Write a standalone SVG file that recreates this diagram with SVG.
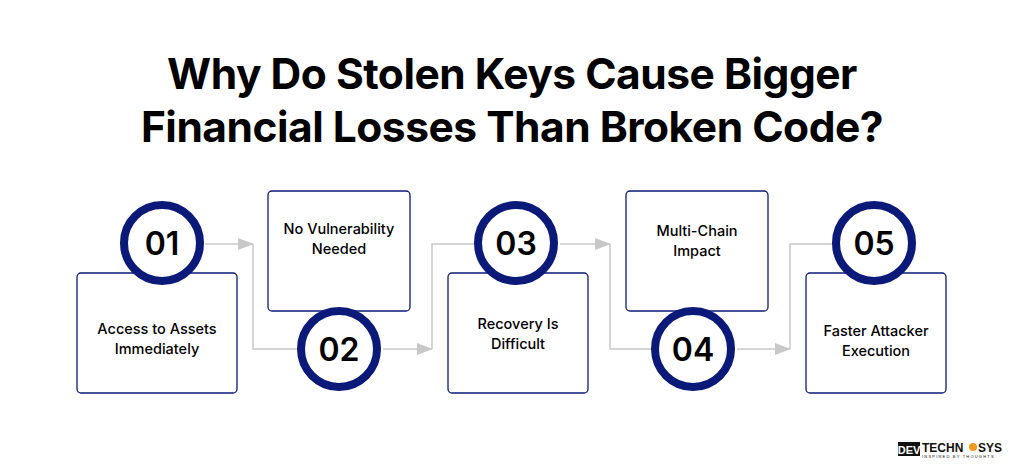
<svg xmlns="http://www.w3.org/2000/svg" width="1024" height="475" viewBox="0 0 1024 475">
<style>
.t{font-family:Inter,"Liberation Sans",sans-serif;font-weight:700;font-size:42.5px;fill:#000;text-anchor:middle;letter-spacing:-0.5px}
.box{fill:#fff;stroke:#0b1a78;stroke-width:1.3}
.c{fill:#fff;stroke:#0b1a78;stroke-width:8}
.n{font-family:Inter,"Liberation Sans",sans-serif;font-weight:600;font-size:32px;fill:#000;text-anchor:middle}
.l{font-family:Inter,"Liberation Sans",sans-serif;font-weight:500;font-size:14.5px;fill:#000;text-anchor:middle}
.cn{fill:none;stroke:#c8c8c8;stroke-width:1.5}
</style>
<defs><marker id="b" markerWidth="16" markerHeight="12" refX="15" refY="6" orient="auto" markerUnits="userSpaceOnUse"><path d="M0,0 L16,6 L0,12 Z" fill="#c8c8c8"/></marker></defs>
<rect width="1024" height="475" fill="#fff"/>
<text class="t" x="512" y="89">Why Do Stolen Keys Cause Bigger</text>
<text class="t" x="512" y="142">Financial Losses Than Broken Code?</text>
<g id="connectors">
<path class="cn" d="M205,244 H253" marker-end="url(#b)"/>
<path class="cn" d="M253,244 V349 H297"/>
<path class="cn" d="M383,349 H432" marker-end="url(#b)"/>
<path class="cn" d="M432,349 V244 H474"/>
<path class="cn" d="M560,244 H610" marker-end="url(#b)"/>
<path class="cn" d="M610,244 V349 H651"/>
<path class="cn" d="M737,349 H790" marker-end="url(#b)"/>
<path class="cn" d="M790,349 V244 H832"/>
</g>
<g id="n1"><rect class="box" x="77" y="273" width="160" height="120" rx="4"/><circle class="c" cx="162" cy="243" r="38"/><text class="n" x="162" y="255">01</text><text class="l" x="157" y="334">Access to Assets</text><text class="l" x="157" y="354">Immediately</text></g>
<g id="n2"><rect class="box" x="268" y="191" width="142" height="120" rx="4"/><circle class="c" cx="339" cy="349" r="38"/><text class="n" x="339" y="361">02</text><text class="l" x="339" y="234">No Vulnerability</text><text class="l" x="339" y="254">Needed</text></g>
<g id="n3"><rect class="box" x="448" y="273" width="140" height="120" rx="4"/><circle class="c" cx="516" cy="243" r="38"/><text class="n" x="516" y="255">03</text><text class="l" x="518" y="329">Recovery Is</text><text class="l" x="518" y="349">Difficult</text></g>
<g id="n4"><rect class="box" x="626" y="191" width="142" height="120" rx="4"/><circle class="c" cx="693" cy="349" r="38"/><text class="n" x="693" y="361">04</text><text class="l" x="697" y="236">Multi-Chain</text><text class="l" x="697" y="256">Impact</text></g>
<g id="n5"><rect class="box" x="806" y="273" width="140" height="120" rx="4"/><circle class="c" cx="874" cy="243" r="38"/><text class="n" x="874" y="255">05</text><text class="l" x="876" y="336">Faster Attacker</text><text class="l" x="876" y="356">Execution</text></g>
<g id="logo"><rect x="898" y="442" width="22" height="14" fill="#111"/><text x="909" y="454" font-family="Liberation Sans,sans-serif" font-weight="700" font-size="11" fill="#fff" text-anchor="middle">DEV</text><text x="922" y="452" font-family="Liberation Sans,sans-serif" font-weight="700" font-size="12" fill="#111">TECHN</text><circle cx="973" cy="447" r="4" fill="#f29a1f"/><text x="978" y="452" font-family="Liberation Sans,sans-serif" font-weight="700" font-size="12" fill="#111">SYS</text><text x="922" y="458" font-family="Liberation Sans,sans-serif" font-size="4" fill="#111" letter-spacing="1.2">INSPIRED BY THOUGHTS</text></g>
</svg>
